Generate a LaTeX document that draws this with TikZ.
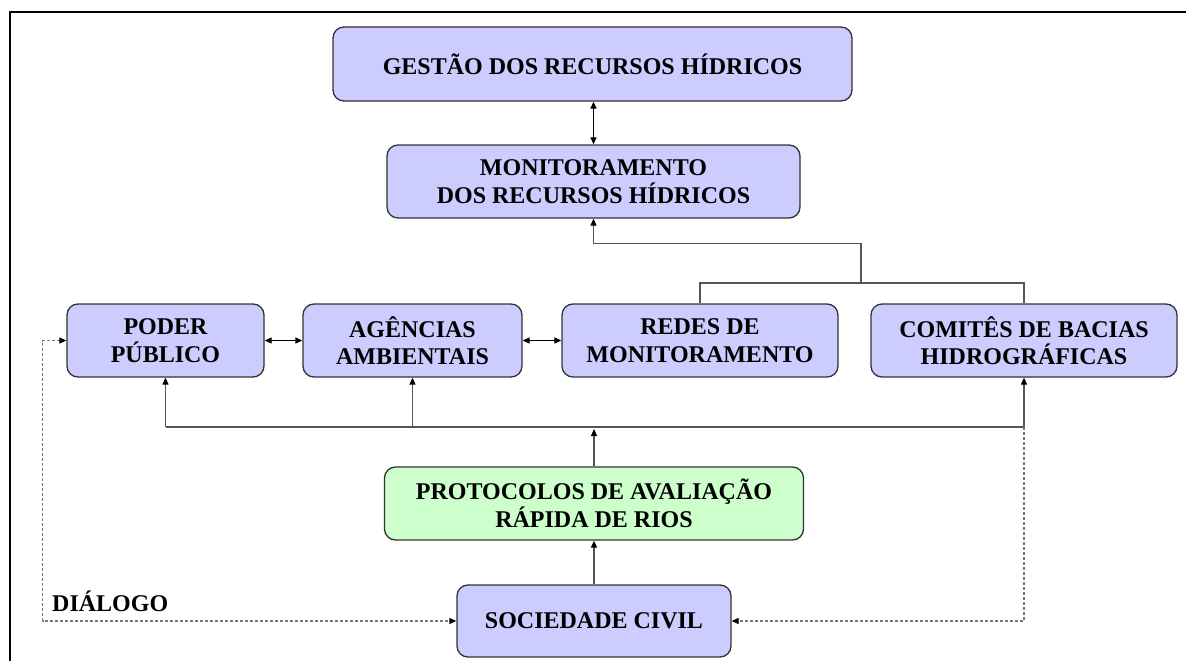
\documentclass[tikz,border=0pt]{standalone}
\usepackage{fontspec}
\setmainfont{Liberation Serif}
\usetikzlibrary{arrows.meta,calc}
\definecolor{boxblue}{HTML}{CCCCFF}
\definecolor{boxgreen}{HTML}{CCFFCC}
\definecolor{edgegray}{HTML}{333333}
\definecolor{linegray}{HTML}{555555}
\definecolor{dashgray}{HTML}{777777}
\tikzset{
  box/.style={draw=edgegray, line width=1.3pt, rounded corners=11pt, fill=boxblue,
    align=center, inner sep=0pt, font=\fontsize{24}{27.5}\selectfont\bfseries},
  greenbox/.style={box, fill=boxgreen},
  conn/.style={draw=linegray, line width=1.2pt},
  arr/.style={conn, -{Triangle[length=7pt,width=6pt,color=black]}},
  dblarr/.style={draw=black, line width=1.2pt, {Triangle[length=7pt,width=6pt]}-{Triangle[length=7pt,width=6pt]}},
  dsh/.style={draw=dashgray, line width=1.2pt, dash pattern=on 3pt off 2pt},
  lbl/.style={font=\fontsize{24}{27.5}\selectfont\bfseries, inner sep=0pt}
}
\begin{document}
\begin{tikzpicture}[x=1pt,y=-1pt]
\useasboundingbox (0,0) rectangle (1186,661);
\fill[white] (0,0) rectangle (1186,661);
% frame
\draw[line width=2.6pt] (10,661) -- (10,12) -- (1186,12);

% nodes
\node[box, minimum width=519pt, minimum height=74pt] (g) at (592.5,64) {GESTÃO DOS RECURSOS HÍDRICOS};
\node[box, minimum width=413pt, minimum height=73pt] (m) at (593.5,181.5) {MONITORAMENTO\\DOS RECURSOS HÍDRICOS};
\node[box, minimum width=197pt, minimum height=73pt] (p) at (165.5,340.5) {PODER\\PÚBLICO};
\node[box, minimum width=219pt, minimum height=73pt] (a) at (412.5,340.5) {AGÊNCIAS\\AMBIENTAIS};
\node[box, minimum width=276pt, minimum height=73pt] (r) at (700,340.5) {REDES DE\\MONITORAMENTO};
\node[box, minimum width=306pt, minimum height=73pt] (c) at (1024,340.5) {COMITÊS DE BACIAS\\HIDROGRÁFICAS};
\node[greenbox, minimum width=419pt, minimum height=73pt] (pr) at (594,503.5) {PROTOCOLOS DE AVALIAÇÃO\\RÁPIDA DE RIOS};
\node[box, minimum width=274pt, minimum height=72pt] (s) at (594,621) {SOCIEDADE CIVIL};
\node[lbl, anchor=base west] (dlg) at (52,611) {DIÁLOGO};

% coordinates
\coordinate (bar) at (0,283);
\coordinate (bj) at (861,283);
\coordinate (bus) at (0,427);
\coordinate (dl) at (42.5,0);

% connectors
\draw[dblarr] (m.north |- g.south) -- (m.north);
\draw[dblarr] (p.east) -- (a.west);
\draw[dblarr] (a.east) -- (r.west);

\draw[conn] (r.north) -- (r.north |- bar) -- (c.north |- bar) -- (c.north);
\draw[arr] (bj) -- ($(bj |- m.south)+(0,25)$) -- ($(m.south)+(0,25)$) -- (m.south);

\draw[conn] (p.south |- bus) -- (c.south |- bus);
\draw[arr] (p.south |- bus) -- (p.south);
\draw[arr] (a.south |- bus) -- (a.south);
\draw[arr] (c.south |- bus) -- (c.south);
\draw[arr] (pr.north) -- ($(pr.north |- bus)+(0,2)$);
\draw[arr] (s.north) -- (pr.south);

\draw[dsh, {Triangle[length=7pt,width=6pt,color=black]}-{Triangle[length=7pt,width=6pt,color=black]}]
  (p.west) -| (dl |- s.west) -- (s.west);
\draw[dsh, -{Triangle[length=7pt,width=6pt,color=black]}]
  (c.south |- bus) |- (s.east);
\end{tikzpicture}
\end{document}
